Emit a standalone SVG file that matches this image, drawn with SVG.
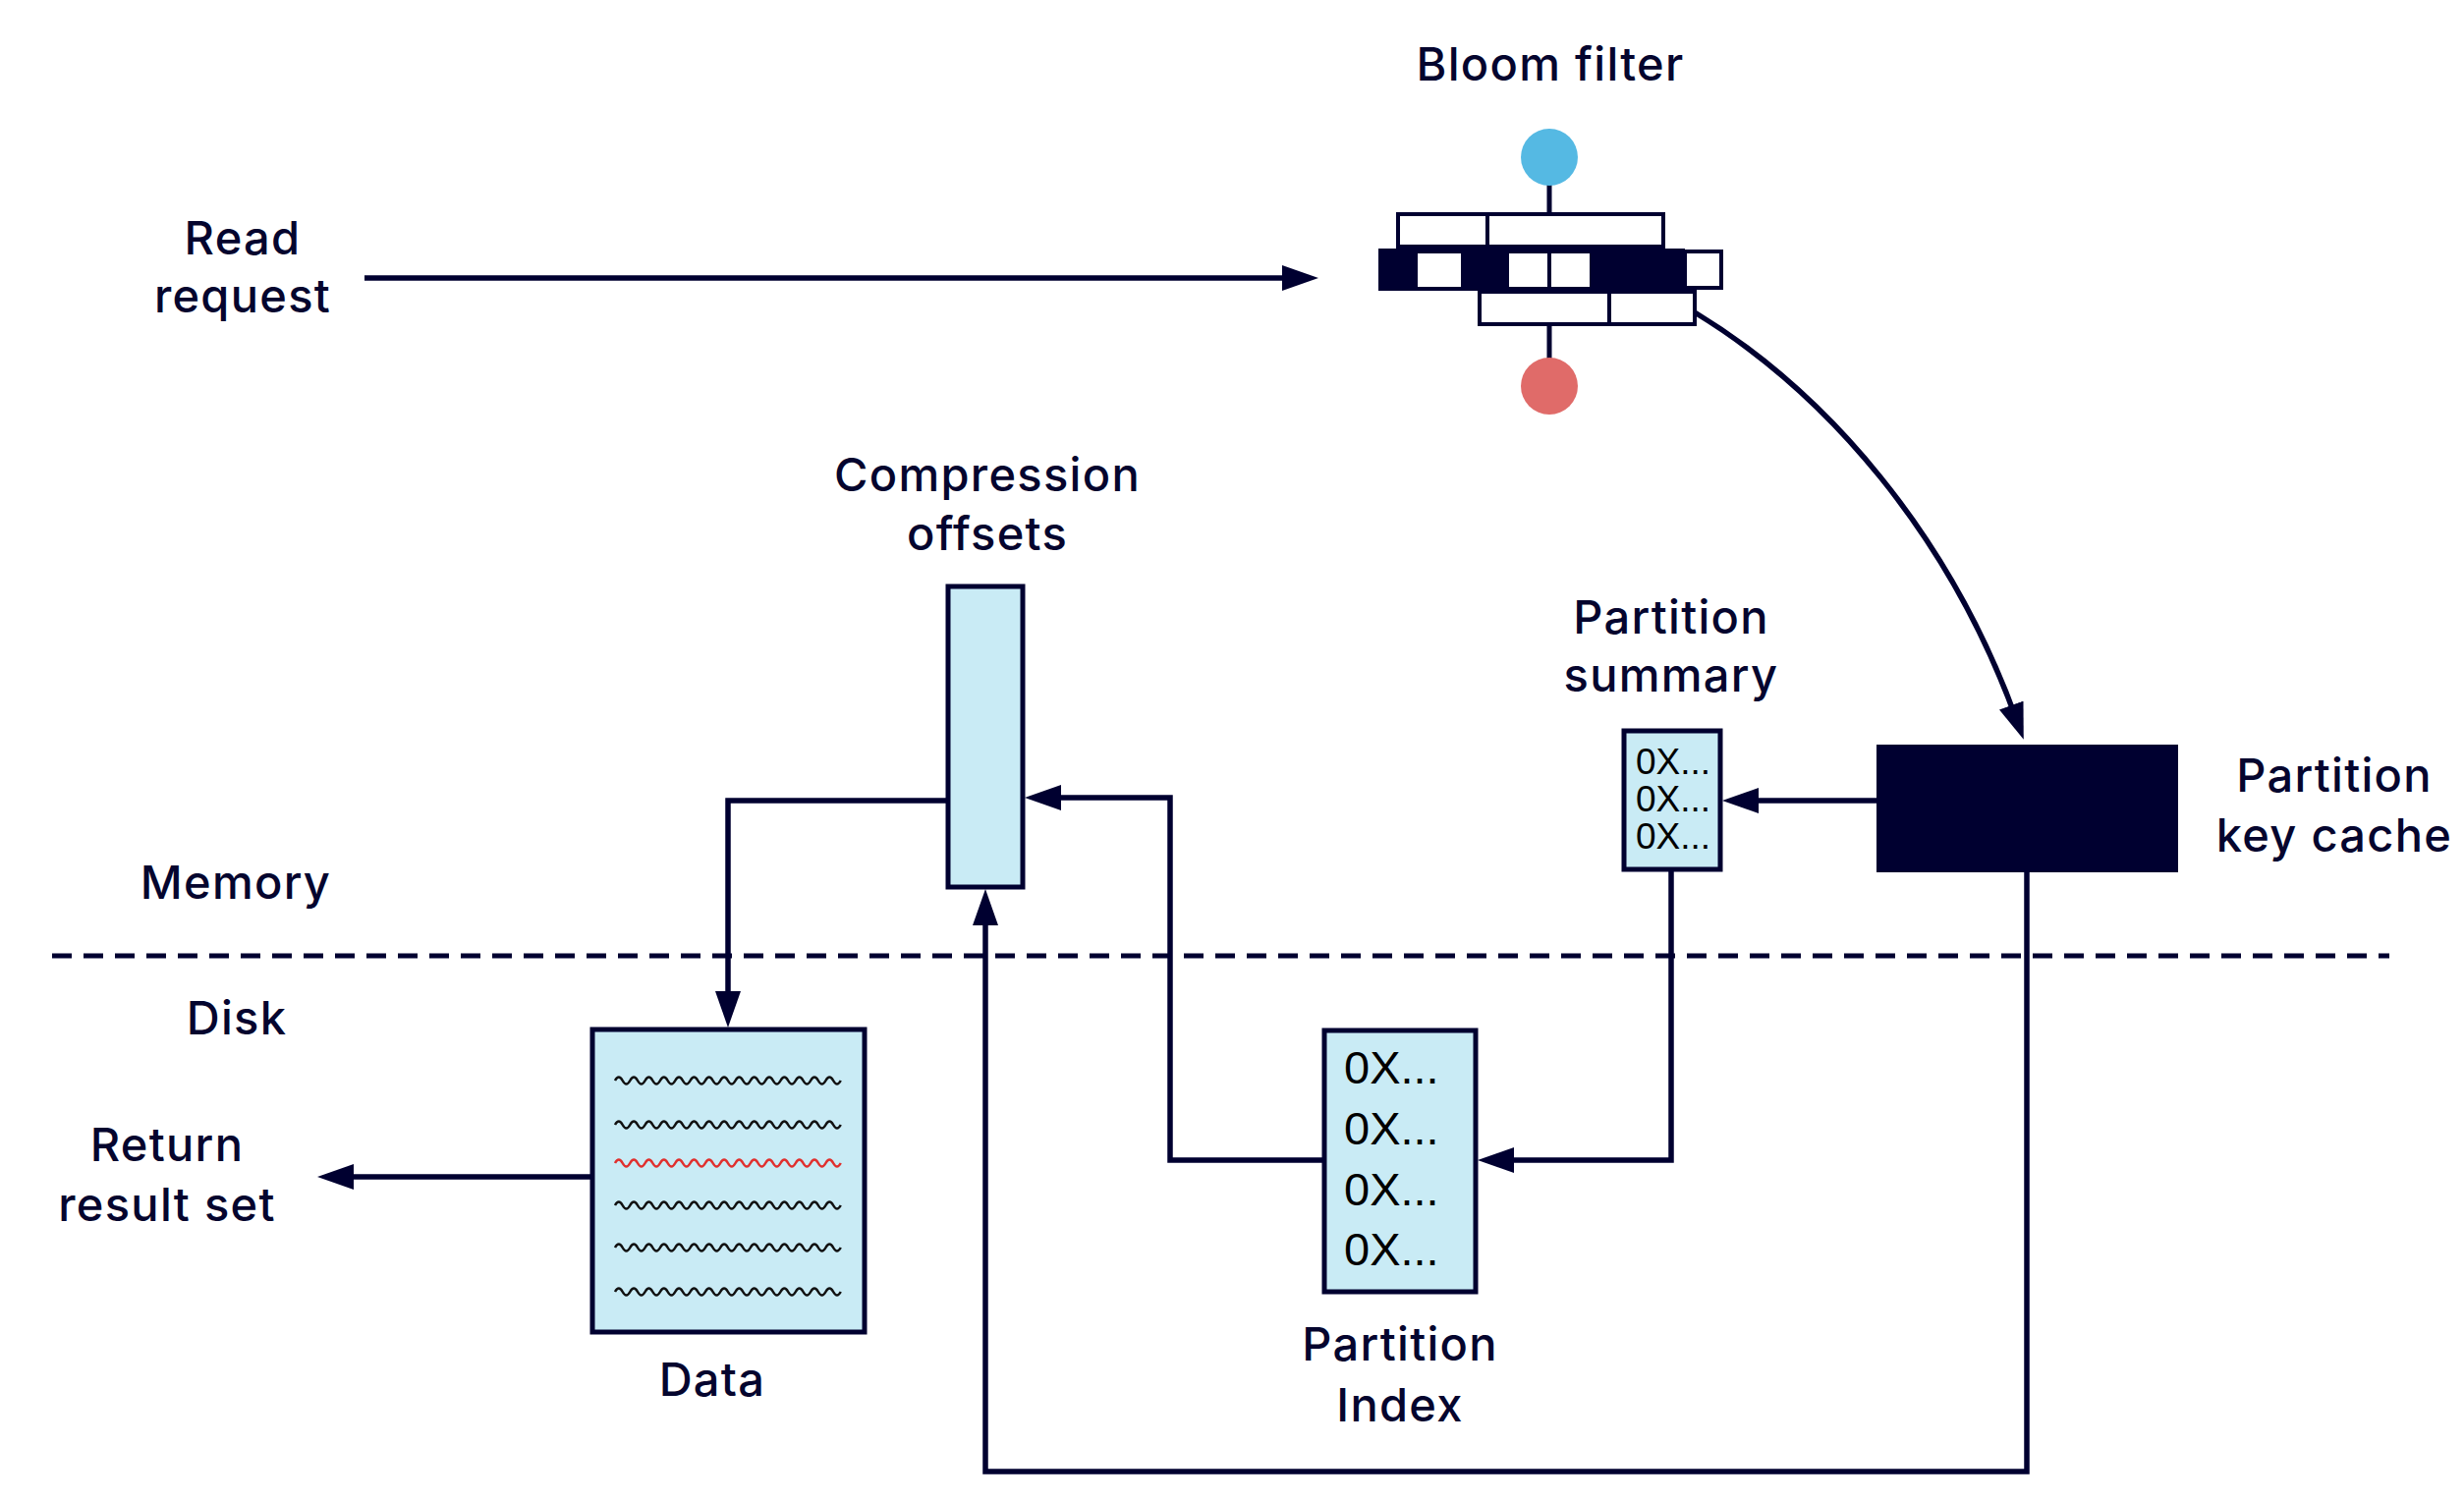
<svg xmlns="http://www.w3.org/2000/svg" xmlns:xlink="http://www.w3.org/1999/xlink" width="2508" height="1528" viewBox="0 0 2508 1528">
<style>
.lbl{font-family:Inter,"Open Sans","Liberation Sans",sans-serif;font-size:47px;font-weight:500;fill:#05052e;letter-spacing:1.3px;text-anchor:middle}
.hex{font-family:"Liberation Sans",Arial,sans-serif;fill:#000;}
.conn{fill:none;stroke:#000030;stroke-width:5.5}
.box{fill:#c9ebf5;stroke:#000030;stroke-width:5}
.bf{fill:#fff;stroke:#000030;stroke-width:4}
</style>
<defs>
<marker id="ah" markerUnits="userSpaceOnUse" markerWidth="40" markerHeight="30" refX="17" refY="13" orient="auto">
<path d="M0,0 L37,13 L0,26 Z" fill="#000030"/>
</marker>
<path id="wave" fill="none" stroke-width="2.5" d="M626,0 q3.83,-7 7.66,0 t7.66,0 t7.66,0 t7.66,0 t7.66,0 t7.66,0 t7.66,0 t7.66,0 t7.66,0 t7.66,0 t7.66,0 t7.66,0 t7.66,0 t7.66,0 t7.66,0 t7.66,0 t7.66,0 t7.66,0 t7.66,0 t7.66,0 t7.66,0 t7.66,0 t7.66,0 t7.66,0 t7.66,0 t7.66,0 t7.66,0 t7.66,0 t7.66,0 t7.66,0"/>
</defs>
<rect width="2508" height="1528" fill="#fff"/>

<g id="divider">
<line x1="53" y1="973" x2="2432" y2="973" stroke="#000030" stroke-width="5" stroke-dasharray="20 12"/>
<text class="lbl" x="240" y="915">Memory</text>
<text class="lbl" x="241" y="1053">Disk</text>
</g>

<g id="connectors">
<path class="conn" d="M371,283 H1322" marker-end="url(#ah)"/>
<path class="conn" d="M1725,318 C1860,400 1985,545 2053,734" marker-end="url(#ah)"/>
<path class="conn" d="M1910,815 H1773" marker-end="url(#ah)"/>
<path class="conn" d="M1701,887 V1181 H1524" marker-end="url(#ah)"/>
<path class="conn" d="M1346,1181 H1191 V812 H1063" marker-end="url(#ah)"/>
<path class="conn" d="M963,815 H741 V1026" marker-end="url(#ah)"/>
<path class="conn" d="M601,1198 H343" marker-end="url(#ah)"/>
<path class="conn" d="M2063,888 V1498 H1003 V925" marker-end="url(#ah)"/>
</g>

<g id="read-request">
<text class="lbl" x="247" y="259">Read</text>
<text class="lbl" x="247" y="318">request</text>
</g>

<g id="bloom-filter">
<text class="lbl" x="1578" y="82">Bloom filter</text>
<line x1="1577" y1="185" x2="1577" y2="218" stroke="#000030" stroke-width="5"/>
<line x1="1577" y1="330" x2="1577" y2="368" stroke="#000030" stroke-width="5"/>
<circle cx="1577" cy="160" r="29" fill="#55b9e3"/>
<circle cx="1577" cy="393" r="29" fill="#e06b69"/>
<rect class="bf" x="1423" y="218" width="270" height="33"/>
<line x1="1514" y1="218" x2="1514" y2="251" stroke="#000030" stroke-width="4"/>
<rect x="1403" y="253" width="312" height="43" fill="#000030"/>
<rect x="1443" y="258" width="44" height="34" fill="#fff"/>
<rect x="1536" y="258" width="39" height="34" fill="#fff"/>
<rect x="1579" y="258" width="39" height="34" fill="#fff"/>
<rect class="bf" x="1715" y="256" width="37" height="37"/>
<rect class="bf" x="1506" y="297" width="219" height="33"/>
<line x1="1638" y1="297" x2="1638" y2="330" stroke="#000030" stroke-width="4"/>
</g>

<g id="partition-key-cache">
<rect x="1910" y="758" width="307" height="130" fill="#000030"/>
<text class="lbl" x="2376" y="806">Partition</text>
<text class="lbl" x="2376" y="867">key cache</text>
</g>

<g id="partition-summary">
<text class="lbl" x="1701" y="645">Partition</text>
<text class="lbl" x="1701" y="704">summary</text>
<rect class="box" x="1653" y="744" width="98" height="141"/>
<text class="hex" x="1665" y="788" font-size="37">0X...</text>
<text class="hex" x="1665" y="826" font-size="37">0X...</text>
<text class="hex" x="1665" y="864" font-size="37">0X...</text>
</g>

<g id="partition-index">
<rect class="box" x="1348" y="1049" width="154" height="266"/>
<text class="hex" x="1368" y="1103" font-size="47">0X...</text>
<text class="hex" x="1368" y="1165" font-size="47">0X...</text>
<text class="hex" x="1368" y="1227" font-size="47">0X...</text>
<text class="hex" x="1368" y="1288" font-size="47">0X...</text>
<text class="lbl" x="1425" y="1385">Partition</text>
<text class="lbl" x="1425" y="1447">Index</text>
</g>

<g id="compression-offsets">
<text class="lbl" x="1005" y="500">Compression</text>
<text class="lbl" x="1005" y="560">offsets</text>
<rect class="box" x="965" y="597" width="76" height="306"/>
</g>

<g id="data">
<rect class="box" x="603" y="1048" width="277" height="308"/>
<use xlink:href="#wave" y="1100" stroke="#111"/>
<use xlink:href="#wave" y="1145" stroke="#111"/>
<use xlink:href="#wave" y="1184" stroke="#e0302e"/>
<use xlink:href="#wave" y="1227" stroke="#111"/>
<use xlink:href="#wave" y="1270" stroke="#111"/>
<use xlink:href="#wave" y="1315" stroke="#111"/>
<text class="lbl" x="725" y="1421">Data</text>
</g>

<g id="return-result">
<text class="lbl" x="170" y="1182">Return</text>
<text class="lbl" x="170" y="1243">result set</text>
</g>
</svg>
